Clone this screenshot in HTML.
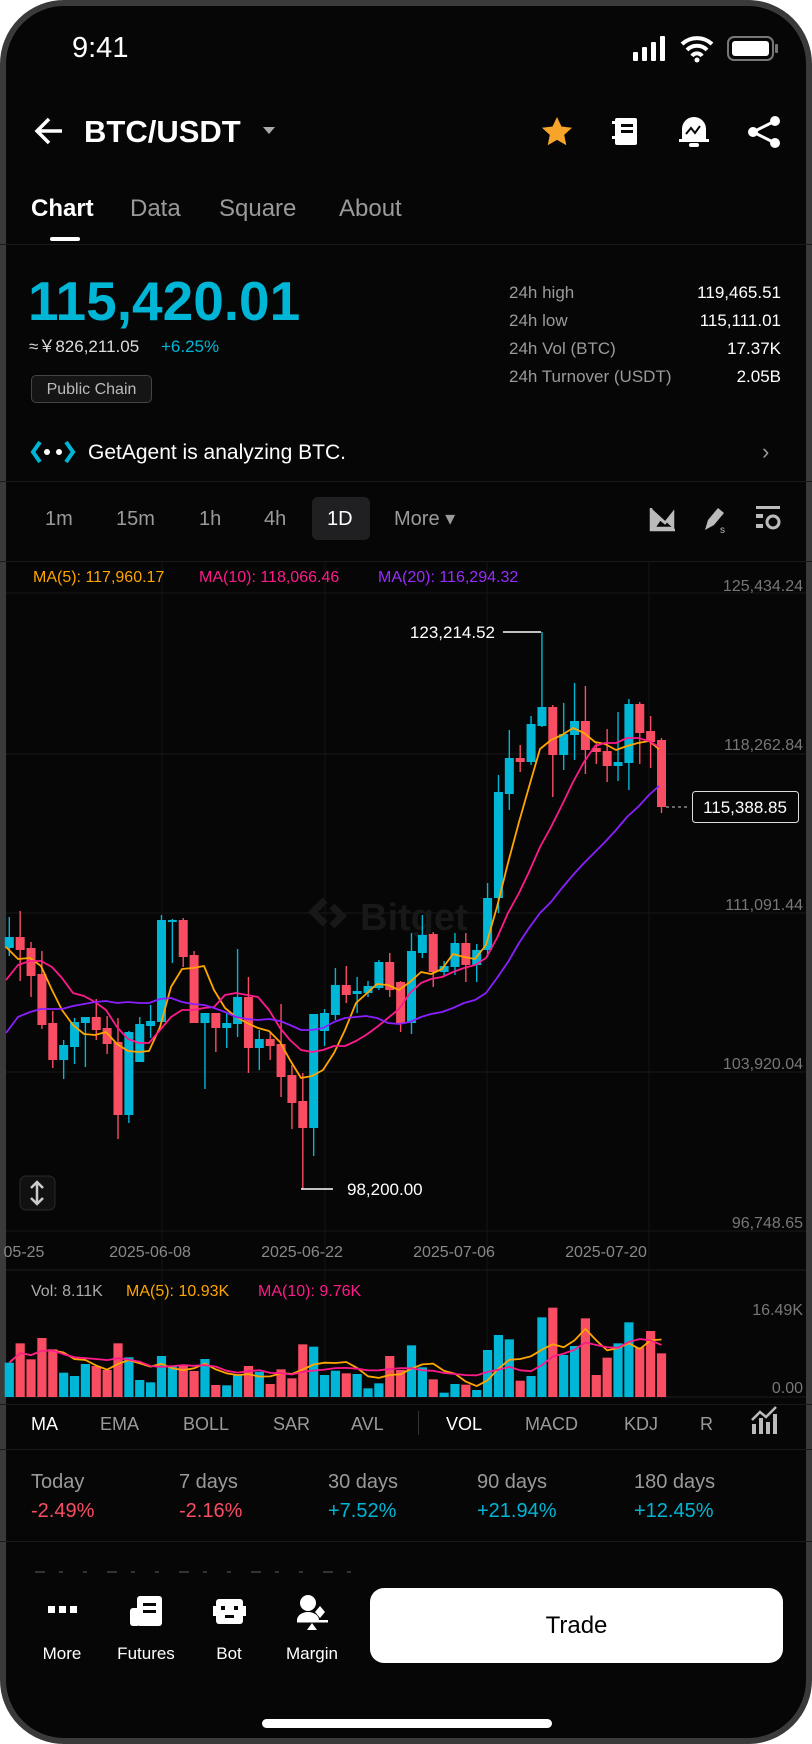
<!DOCTYPE html>
<html><head><meta charset="utf-8">
<style>
*{margin:0;padding:0;box-sizing:border-box}
html,body{width:812px;height:1744px;background:#fff;overflow:hidden;font-family:"Liberation Sans",sans-serif}
#ph{position:absolute;left:0;top:0;width:812px;height:1744px;border:6px solid #3a3a3a;border-radius:64px;background:#060606;overflow:hidden}
.t{position:absolute;white-space:nowrap;line-height:1}
.g{color:#9a9a9a}
.w{color:#fff}
.hl{position:absolute;left:0;width:812px;height:1px;background:#1a1a1a}
</style></head><body>
<div id="ph"></div>
<svg id="s" width="812" height="1744" viewBox="0 0 812 1744" style="position:absolute;left:0;top:0" font-family="Liberation Sans, sans-serif"></svg>
<div style="position:absolute;left:0;top:0;width:812px;height:1744px">
<div class="t w" style="left:72px;top:34px;font-size:29px">9:41</div>
<div class="t w" style="left:84px;top:116px;font-size:31px;font-weight:bold">BTC/USDT</div>
<div class="t" style="left:31px;top:197px;font-size:24px;color:#fff;font-weight:bold">Chart</div>
<div class="t g" style="left:130px;top:197px;font-size:24px">Data</div>
<div class="t g" style="left:219px;top:197px;font-size:24px">Square</div>
<div class="t g" style="left:339px;top:197px;font-size:24px">About</div>
<div style="position:absolute;left:50px;top:237px;width:30px;height:4px;background:#fff;border-radius:2px"></div>
<div class="hl" style="top:244px"></div>
<div class="t" style="left:28px;top:274px;font-size:55px;font-weight:bold;color:#00b6d6;letter-spacing:0px">115,420.01</div>
<div class="t" style="left:29px;top:338px;font-size:17px;color:#ddd">≈￥826,211.05</div>
<div class="t" style="left:161px;top:338px;font-size:17px;color:#00b6d6">+6.25%</div>
<div class="t" style="left:31px;top:375px;width:121px;height:28px;border:1px solid #444;border-radius:5px;background:#151515;color:#bbb;font-size:16px;padding-top:6px;text-align:center">Public Chain</div>
<div class="t g" style="left:509px;top:284px;font-size:17px">24h high</div>
<div class="t g" style="left:509px;top:312px;font-size:17px">24h low</div>
<div class="t g" style="left:509px;top:340px;font-size:17px">24h Vol (BTC)</div>
<div class="t g" style="left:509px;top:368px;font-size:17px">24h Turnover (USDT)</div>
<div class="t w" style="right:31px;top:284px;font-size:17px">119,465.51</div>
<div class="t w" style="right:31px;top:312px;font-size:17px">115,111.01</div>
<div class="t w" style="right:31px;top:340px;font-size:17px">17.37K</div>
<div class="t w" style="right:31px;top:368px;font-size:17px">2.05B</div>
<div class="t w" style="left:88px;top:442px;font-size:21px">GetAgent is analyzing BTC.</div>
<div class="t g" style="left:762px;top:441px;font-size:22px">›</div>
<div class="hl" style="top:481px"></div>
<div style="position:absolute;left:312px;top:497px;width:58px;height:43px;background:#202022;border-radius:6px"></div>
<div class="t g" style="left:45px;top:509px;font-size:20px">1m</div>
<div class="t g" style="left:116px;top:509px;font-size:20px">15m</div>
<div class="t g" style="left:199px;top:509px;font-size:20px">1h</div>
<div class="t g" style="left:264px;top:509px;font-size:20px">4h</div>
<div class="t w" style="left:327px;top:509px;font-size:20px">1D</div>
<div class="t g" style="left:394px;top:509px;font-size:20px">More ▾</div>
<div class="hl" style="top:561px"></div>
<div class="t" style="left:33px;top:570px;font-size:16px;color:#ffa500">MA(5): 117,960.17</div>
<div class="t" style="left:199px;top:570px;font-size:16px;color:#ff1a8c">MA(10): 118,066.46</div>
<div class="t" style="left:378px;top:570px;font-size:16px;color:#9a2bff">MA(20): 116,294.32</div>
<div class="t" style="left:31px;top:1284px;font-size:16px;color:#aaa">Vol: 8.11K</div>
<div class="t" style="left:126px;top:1284px;font-size:16px;color:#ffa500">MA(5): 10.93K</div>
<div class="t" style="left:258px;top:1284px;font-size:16px;color:#ff1a8c">MA(10): 9.76K</div>
<div class="hl" style="top:1404px"></div>
<div class="t w" style="left:31px;top:1415px;font-size:18px">MA</div>
<div class="t g" style="left:100px;top:1415px;font-size:18px">EMA</div>
<div class="t g" style="left:183px;top:1415px;font-size:18px">BOLL</div>
<div class="t g" style="left:273px;top:1415px;font-size:18px">SAR</div>
<div class="t g" style="left:351px;top:1415px;font-size:18px">AVL</div>
<div style="position:absolute;left:418px;top:1411px;width:1px;height:24px;background:#333"></div>
<div class="t w" style="left:446px;top:1415px;font-size:18px">VOL</div>
<div class="t g" style="left:525px;top:1415px;font-size:18px">MACD</div>
<div class="t g" style="left:624px;top:1415px;font-size:18px">KDJ</div>
<div class="t g" style="left:700px;top:1415px;font-size:18px;width:15px;overflow:hidden">R</div>
<div class="hl" style="top:1449px"></div>
<div class="t g" style="left:31px;top:1472px;font-size:20px">Today</div>
<div class="t g" style="left:179px;top:1472px;font-size:20px">7 days</div>
<div class="t g" style="left:328px;top:1472px;font-size:20px">30 days</div>
<div class="t g" style="left:477px;top:1472px;font-size:20px">90 days</div>
<div class="t g" style="left:634px;top:1472px;font-size:20px">180 days</div>
<div class="t" style="left:31px;top:1501px;font-size:20px;color:#f94d63">-2.49%</div>
<div class="t" style="left:179px;top:1501px;font-size:20px;color:#f94d63">-2.16%</div>
<div class="t" style="left:328px;top:1501px;font-size:20px;color:#00b6d6">+7.52%</div>
<div class="t" style="left:477px;top:1501px;font-size:20px;color:#00b6d6">+21.94%</div>
<div class="t" style="left:634px;top:1501px;font-size:20px;color:#00b6d6">+12.45%</div>
<div class="hl" style="top:1541px"></div>
<div class="t w" style="left:62px;top:1645px;font-size:17px;transform:translateX(-50%)">More</div>
<div class="t w" style="left:146px;top:1645px;font-size:17px;transform:translateX(-50%)">Futures</div>
<div class="t w" style="left:229px;top:1645px;font-size:17px;transform:translateX(-50%)">Bot</div>
<div class="t w" style="left:312px;top:1645px;font-size:17px;transform:translateX(-50%)">Margin</div>
<div style="position:absolute;left:370px;top:1588px;width:413px;height:75px;background:#fff;border-radius:14px;color:#000;font-size:24px;text-align:center;line-height:75px">Trade</div>
<div style="position:absolute;left:262px;top:1719px;width:290px;height:9px;background:#fff;border-radius:5px"></div>
</div>
<script>
var s=document.getElementById('s'),h='';
var C='#00b6d6',R='#f94d63';
h+='<rect x="633" y="52" width="5" height="9" rx="1" fill="#fff"/><rect x="642" y="47" width="5" height="14" rx="1" fill="#fff"/><rect x="651" y="42" width="5" height="19" rx="1" fill="#fff"/><rect x="660" y="36" width="5" height="25" rx="1" fill="#fff"/>';
h+='<path d="M682 44a22 22 0 0 1 30 0M687 50a14 14 0 0 1 20 0M692 56a6 6 0 0 1 10 0" stroke="#fff" stroke-width="4" fill="none"/><circle cx="697" cy="60" r="2.5" fill="#fff"/>';
h+='<rect x="728" y="37" width="45" height="23" rx="6" fill="none" stroke="#777" stroke-width="2"/><rect x="732" y="41" width="37" height="15" rx="3" fill="#fff"/><rect x="775" y="44" width="3" height="9" rx="1" fill="#777"/>';
h+='<path d="M62 131H38M49 119L37 131L49 143" stroke="#fff" stroke-width="3.5" fill="none"/>';
h+='<path d="M263 127h12l-6 7z" fill="#aaa"/>';
h+='<path d="M557 117l4.5 9.5 10.5 1.2-7.8 7.2 2.1 10.3-9.3-5.3-9.3 5.3 2.1-10.3-7.8-7.2 10.5-1.2z" fill="#f7a52a"/>';
h+='<rect x="615" y="118" width="22" height="27" rx="2" fill="#fff"/><rect x="621" y="124" width="12" height="3" fill="#060606"/><rect x="621" y="130" width="12" height="3" fill="#060606"/><rect x="612" y="121" width="5" height="3" fill="#fff"/><rect x="612" y="136" width="5" height="3" fill="#fff"/>';
h+='<path d="M682 140v-11a12 12 0 0 1 24 0v11z" fill="#fff"/><rect x="679" y="139" width="30" height="3" fill="#fff"/><rect x="689" y="143" width="10" height="4" rx="2" fill="#fff"/><path d="M686 134l5-6 4 5 5-7" stroke="#060606" stroke-width="2" fill="none"/>';
h+='<circle cx="775" cy="121" r="5" fill="#fff"/><circle cx="753" cy="132" r="5" fill="#fff"/><circle cx="775" cy="143" r="5" fill="#fff"/><path d="M775 121L753 132L775 143" stroke="#fff" stroke-width="3" fill="none"/>';
h+='<path d="M40 442l-7 10 7 10M66 442l7 10-7 10" stroke="'+C+'" stroke-width="4" fill="none"/><circle cx="47" cy="452" r="3" fill="#fff"/><circle cx="59" cy="452" r="3" fill="#fff"/>';
h+='<path d="M651 508v22h24M654 528l6-9 5 4 8-10v15z" stroke="#bbb" stroke-width="2.5" fill="#bbb"/>';
h+='<path d="M705 530l3-10 10-12 6 5-10 12z" fill="#bbb"/><text x="720" y="533" fill="#bbb" font-size="10">s</text>';
h+='<rect x="756" y="506" width="24" height="3" fill="#bbb"/><rect x="756" y="514" width="7" height="4" fill="#bbb"/><rect x="756" y="524" width="7" height="4" fill="#bbb"/><circle cx="773" cy="522" r="6" fill="none" stroke="#bbb" stroke-width="3"/>';
[593,754,913,1072,1231].forEach(function(y){h+='<line x1="6" x2="806" y1="'+y+'" y2="'+y+'" stroke="#181818"/>'});
[162,325,487,649].forEach(function(x){h+='<line x1="'+x+'" x2="'+x+'" y1="562" y2="1270" stroke="#141414"/><line x1="'+x+'" x2="'+x+'" y1="1270" y2="1397" stroke="#141414"/>'});
h+='<line x1="6" x2="806" y1="1270" y2="1270" stroke="#1c1c1c"/>';
h+='<line x1="6" x2="806" y1="1397" y2="1397" stroke="#1c1c1c"/>';
var yl=[['125,434.24',591],['118,262.84',750],['111,091.44',910],['103,920.04',1069],['96,748.65',1228]];
yl.forEach(function(a){h+='<text x="803" y="'+a[1]+'" fill="#777" font-size="16" text-anchor="end">'+a[0]+'</text>'});
[['05-25',24],['2025-06-08',150],['2025-06-22',302],['2025-07-06',454],['2025-07-20',606]].forEach(function(a){h+='<text x="'+a[1]+'" y="1257" fill="#888" font-size="16" text-anchor="middle">'+a[0]+'</text>'});
h+='<text x="360" y="930" fill="#181818" font-size="38" font-weight="bold">Bitget</text><path d="M325 900l-12 12 12 12M332 906l10 10-10 10" stroke="#181818" stroke-width="7" fill="none"/>';
var d=[[937,948,917,956,'c'],[937,950,911,981,'r'],[948,976,942,997,'r'],[974,1025,951,1029,'r'],[1023,1060,1011,1068,'r'],[1045,1060,1040,1079,'c'],[1022,1047,1018,1064,'c'],[1017,1023,1017,1067,'c'],[1017,1030,999,1040,'r'],[1028,1044,1016,1054,'r'],[1042,1115,1018,1139,'r'],[1032,1115,1031,1123,'c'],[1024,1062,1017,1062,'c'],[1021,1026,1005,1038,'c'],[920,1022,915,1022,'c'],[920,922,919,963,'c'],[920,957,918,967,'r'],[955,1023,951,1023,'r'],[1013,1023,1013,1089,'c'],[1013,1028,1013,1052,'r'],[1023,1028,1013,1048,'c'],[997,1024,949,1037,'c'],[997,1048,977,1073,'r'],[1039,1048,1030,1070,'c'],[1039,1046,1032,1060,'r'],[1044,1077,1004,1097,'r'],[1075,1103,1065,1129,'r'],[1101,1128,1073,1189,'r'],[1014,1128,1014,1156,'c'],[1013,1031,1009,1046,'c'],[985,1015,968,1020,'c'],[985,995,966,1003,'r'],[991,994,977,1013,'c'],[986,993,981,997,'c'],[962,988,960,990,'c'],[962,990,953,997,'r'],[982,1023,981,1032,'r'],[951,1023,933,1034,'c'],[935,953,915,958,'c'],[934,972,932,987,'r'],[966,972,961,977,'c'],[943,967,933,975,'c'],[943,965,933,982,'r'],[950,965,944,982,'c'],[898,950,883,957,'c'],[792,898,775,913,'c'],[758,794,730,810,'c'],[758,762,745,772,'r'],[724,762,716,765,'c'],[707,726,632,727,'c'],[707,755,705,797,'r'],[734,755,703,770,'c'],[721,735,683,760,'c'],[721,750,686,774,'r'],[748,752,742,764,'r'],[751,766,729,782,'r'],[762,766,712,781,'c'],[704,763,699,790,'c'],[704,733,702,764,'r'],[731,742,716,768,'r'],[740,807,738,813,'r']];
var vt=[308,250,298,234,268,338,348,312,318,330,250,292,360,367,288,318,318,333,297,375,376,345,318,335,372,328,355,253,260,345,332,340,342,385,370,288,330,256,322,358,398,372,374,390,270,225,238,362,348,172,143,285,258,175,345,293,250,187,262,213,280];
function X(i){return 9.3+i*10.87}
d.forEach(function(c,i){var x=X(i),col=c[4]=='c'?C:R;
h+='<rect x="'+(x-0.7)+'" y="'+c[2]+'" width="1.4" height="'+(c[3]-c[2])+'" fill="'+col+'"/>';
h+='<rect x="'+(x-4.5)+'" y="'+c[0]+'" width="9" height="'+Math.max(1.5,c[1]-c[0])+'" fill="'+col+'"/>';
var t=1260+vt[i]/3;h+='<rect x="'+(x-4.6)+'" y="'+t+'" width="9.2" height="'+(1397-t)+'" fill="'+col+'"/>';});
function pl(p,col){h+='<polyline points="'+p+'" fill="none" stroke="'+col+'" stroke-width="1.8" stroke-linejoin="round"/>'}
pl('6,947 18,959 30,958 41,966 52,990 62,1010 73,1025 84,1034 95,1035 106,1032 117,1044 128,1051 139,1052 149,1051 160,1027 171,987 182,969 193,968 204,966 214,990 225,1008 236,1017 247,1023 258,1028 269,1031 280,1042 290,1060 301,1078 312,1076 323,1070 334,1053 345,1030 356,1003 366,994 377,984 388,985 399,990 410,982 421,972 431,974 442,969 453,954 464,957 475,959 486,945 497,907 508,863 519,822 529,787 540,749 551,740 562,735 573,728 584,733 595,742 605,744 616,750 627,746 638,743 649,741 659,749','#ffa500');
pl('6,980 18,965 30,961 41,961 52,967 62,978 73,993 84,996 95,1002 106,1010 117,1027 128,1039 139,1043 149,1043 160,1030 171,1017 182,1010 193,1010 204,1008 214,1007 225,995 236,993 247,995 258,997 269,1010 280,1028 290,1040 301,1050 312,1052 323,1050 334,1046 345,1046 356,1041 366,1035 377,1027 388,1018 399,1009 410,993 421,983 431,979 442,977 453,972 464,968 475,965 486,958 497,938 508,913 519,893 529,872 540,847 551,827 562,805 573,782 584,762 595,746 605,743 616,743 627,738 638,738 649,741 659,747','#ff1a8c');
pl('6,1033 18,1017 30,1012 41,1009 52,1009 62,1009 73,1006 84,1004 95,1002 106,1001 117,1003 128,1002 139,1003 149,1003 160,999 171,998 182,1002 193,1004 204,1005 214,1008 225,1012 236,1017 247,1019 258,1020 269,1019 280,1021 290,1025 301,1030 312,1030 323,1028 334,1022 345,1018 356,1017 366,1016 377,1018 388,1023 399,1024 410,1022 421,1017 431,1014 442,1012 453,1008 464,1003 475,1000 486,993 497,978 508,962 519,943 529,928 540,913 551,902 562,888 573,875 584,863 595,852 605,842 616,830 627,817 638,807 649,795 659,786','#8b1fff');
function vma(n,col){var p=[];for(var i=0;i<vt.length;i++){var a=0,k=0;for(var j=Math.max(0,i-n+1);j<=i;j++){a+=1397-(1260+vt[j]/3);k++}p.push(X(i).toFixed(1)+','+(1397-a/k).toFixed(1))}pl(p.join(' '),col)}
vma(5,'#ffa500');vma(10,'#ff1a8c');
h+='<text x="803" y="1315" fill="#777" font-size="16" text-anchor="end">16.49K</text><text x="803" y="1393" fill="#777" font-size="16" text-anchor="end">0.00</text>';
h+='<line x1="503" x2="541" y1="632" y2="632" stroke="#fff" stroke-width="1.5"/><text x="495" y="638" fill="#fff" font-size="17" text-anchor="end">123,214.52</text>';
h+='<line x1="301" x2="333" y1="1189" y2="1189" stroke="#fff" stroke-width="1.5"/><text x="347" y="1195" fill="#fff" font-size="17">98,200.00</text>';
h+='<line x1="666" x2="690" y1="807" y2="807" stroke="#ccc" stroke-dasharray="3,3"/><rect x="692.5" y="791.5" width="106" height="31" rx="3" fill="#060606" stroke="#ddd"/><text x="745" y="813" fill="#fff" font-size="17" text-anchor="middle">115,388.85</text>';
h+='<rect x="20" y="1176" width="35" height="34" rx="6" fill="#111" stroke="#2a2a2a"/><path d="M37 1182v22M31 1188l6-6 6 6M31 1198l6 6 6-6" stroke="#ccc" stroke-width="2.5" fill="none"/>';
h+='<rect x="752" y="1424" width="4" height="10" fill="#bbb"/><rect x="759" y="1418" width="4" height="16" fill="#bbb"/><rect x="766" y="1422" width="4" height="12" fill="#bbb"/><rect x="773" y="1414" width="4" height="20" fill="#bbb"/><path d="M752 1420l8-8 6 5 10-10" stroke="#bbb" stroke-width="2.5" fill="none"/>';
for(var i=0;i<14;i++)h+='<rect x="'+(35+i*24)+'" y="1571" width="'+(i%3?4:10)+'" height="2" fill="#333"/>';
h+='<rect x="48" y="1606" width="7" height="7" fill="#fff"/><rect x="59" y="1606" width="7" height="7" fill="#fff"/><rect x="70" y="1606" width="7" height="7" fill="#fff"/>';
h+='<rect x="137" y="1596" width="25" height="30" rx="3" fill="#fff"/><rect x="130" y="1608" width="10" height="18" rx="3" fill="#fff"/><rect x="143" y="1603" width="13" height="3" fill="#060606"/><rect x="143" y="1610" width="13" height="3" fill="#060606"/>';
h+='<rect x="216" y="1599" width="27" height="25" rx="3" fill="#fff"/><rect x="213" y="1606" width="3" height="10" fill="#fff"/><rect x="243" y="1606" width="3" height="10" fill="#fff"/><rect x="221" y="1606" width="4" height="4" fill="#060606"/><rect x="234" y="1606" width="4" height="4" fill="#060606"/><rect x="225" y="1615" width="9" height="3" fill="#060606"/>';
h+='<circle cx="308" cy="1603" r="8" fill="#fff"/><path d="M297 1620a11 8 0 0 1 22 0z" fill="#fff"/><path d="M320 1606l5 6-5 6-5-6z" fill="#fff"/><rect x="297" y="1620" width="31" height="2.5" fill="#fff"/><path d="M307 1630l5-7 5 7z" fill="#fff"/>';
s.innerHTML=h;
</script>
</body></html>
